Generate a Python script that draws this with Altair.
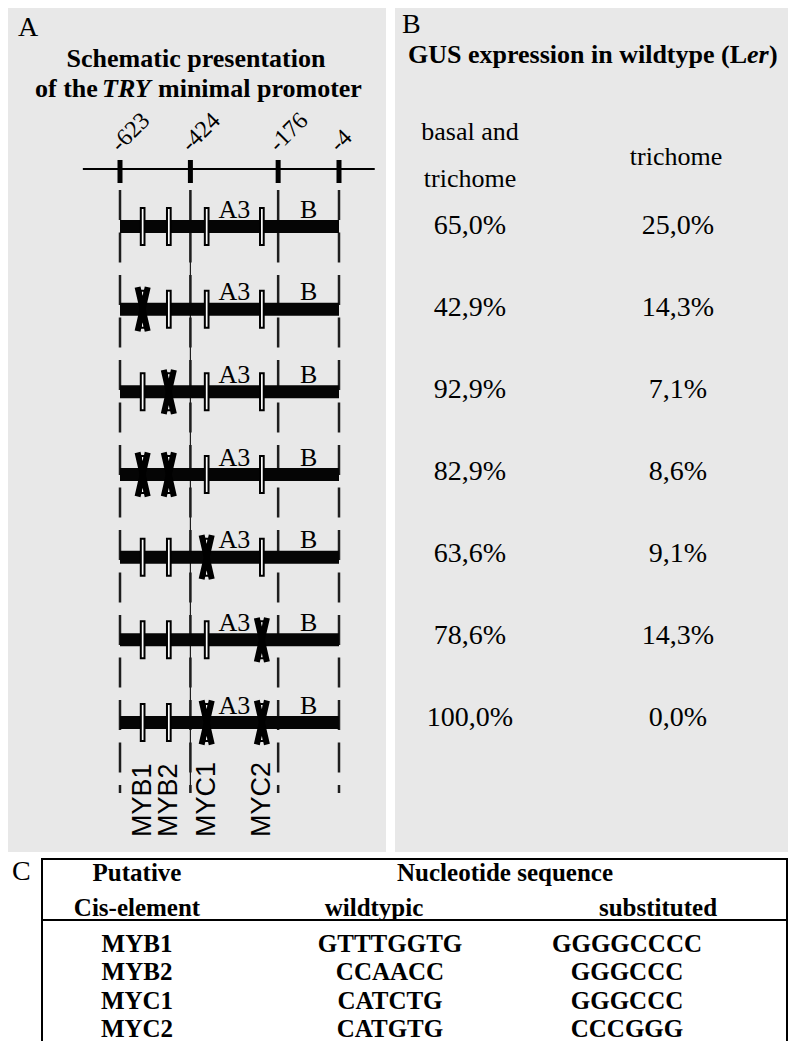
import altair as alt
import pandas as pd

# ---------------- data ----------------
boundaries = [-623, -424, -176, -4]
boundary_labels = ["-623", "-424", "-176", "-4"]
axis_extent = [-728, 97]
element_names = ["MYB1", "MYB2", "MYC1", "MYC2"]
element_pos = [-559, -485, -378, -222]
region_names = ["A3", "B"]
mutated = [[], ["MYB1"], ["MYB2"], ["MYB1", "MYB2"], ["MYC1"], ["MYC2"], ["MYC1", "MYC2"]]
basal_trichome = [65.0, 42.9, 92.9, 82.9, 63.6, 78.6, 100.0]
trichome_only = [25.0, 14.3, 7.1, 8.6, 9.1, 14.3, 0.0]
table_elements = ["MYB1", "MYB2", "MYC1", "MYC2"]
table_wild = ["GTTTGGTG", "CCAACC", "CATCTG", "CATGTG"]
table_subst = ["GGGGCCCC", "GGGCCC", "GGGCCC", "CCCGGG"]

# ---------------- tables built from the lists ----------------
n_rows = len(mutated)
ticks_df = pd.DataFrame({"bp": boundaries, "label": boundary_labels})
axis_df = pd.DataFrame({"start": [axis_extent[0]], "end": [axis_extent[1]]})
bars_df = pd.DataFrame({"row": list(range(n_rows)),
                        "start": [boundaries[0]] * n_rows,
                        "end": [boundaries[-1]] * n_rows})
elem_rows = []
for r, muts in enumerate(mutated):
    for name, pos in zip(element_names, element_pos):
        elem_rows.append({"row": r, "bp": pos, "name": name, "mut": name in muts})
elems_df = pd.DataFrame(elem_rows)
mids = [(boundaries[1] + boundaries[2]) / 2, (boundaries[2] + boundaries[3]) / 2]
region_df = pd.DataFrame([{"row": r, "bp": m, "name": n}
                          for r in range(n_rows) for n, m in zip(region_names, mids)])
labels_df = pd.DataFrame({"bp": element_pos, "name": element_names})


def pct(v):
    return f"{v:.1f}%".replace(".", ",")


pct_df = pd.DataFrame({"row": list(range(n_rows)),
                       "basal": [pct(v) for v in basal_trichome],
                       "tri": [pct(v) for v in trichome_only]})
table_df = pd.DataFrame({"row": list(range(len(table_elements))),
                         "el": table_elements, "wild": table_wild, "subst": table_subst})
one = pd.DataFrame({"k": [0]})

SERIF = "Liberation Serif"
SANS = "Liberation Sans"
GRAY = "#e8e8e8"

X_BP = alt.Scale(domain=[boundaries[0], boundaries[-1]], range=[112, 331], zero=False, nice=False)
Y_ROW = alt.Scale(domain=[0, n_rows - 1], range=[218.5, 714.5], zero=False, nice=False)
Y_PCT = alt.Scale(domain=[0, n_rows - 1], range=[217.5, 709.5], zero=False, nice=False)
Y_TAB = alt.Scale(domain=[0, len(table_elements) - 1], range=[936, 1021], zero=False, nice=False)


def xbp(field):
    return alt.X(field, type="quantitative", scale=X_BP, axis=None)


def yrow(field="row"):
    return alt.Y(field, type="quantitative", scale=Y_ROW, axis=None)


def label(text, x, y, size=26, weight="bold", style="normal", align="center",
          font=SERIF, baseline="alphabetic"):
    return alt.Chart(one).mark_text(
        text=text, font=font, fontSize=size, fontWeight=weight, fontStyle=style,
        align=align, baseline=baseline, color="black"
    ).encode(x=alt.value(x), y=alt.value(y))


def hrule(x1, x2, y, w=2):
    return alt.Chart(one).mark_rule(color="black", strokeWidth=w).encode(
        x=alt.value(x1), x2=alt.value(x2), y=alt.value(y))


def vrule(x, y1, y2, w=2):
    return alt.Chart(one).mark_rule(color="black", strokeWidth=w).encode(
        x=alt.value(x), y=alt.value(y1), y2=alt.value(y2))


BOX_PATH = "M -0.1 -1 L 0.1 -1 L 0.1 1 L -0.1 1 Z"
X_PATH = "M -0.23 -1 L 0.23 1 M 0.23 -1 L -0.23 1"

layers = []
# panel backgrounds
layers.append(alt.Chart(one).mark_rect(color=GRAY).encode(
    x=alt.value(-1), x2=alt.value(378), y=alt.value(-3), y2=alt.value(844)))
layers.append(alt.Chart(one).mark_rect(color=GRAY).encode(
    x=alt.value(387), x2=alt.value(790), y=alt.value(-3), y2=alt.value(844)))

# ---------- panel A ----------
layers.append(alt.Chart(axis_df).mark_rule(color="black", strokeWidth=2).encode(
    x=xbp("start"), x2="end:Q", y=alt.value(161)))
layers.append(alt.Chart(ticks_df).mark_rule(
    color="#1e1e1e", strokeWidth=2.5, strokeDash=[30, 12.5]).encode(
    x=xbp("bp"), y=alt.value(182), y2=alt.value(785)))
layers.append(alt.Chart(ticks_df[ticks_df.bp == boundaries[1]]).mark_rule(
    color="#1e1e1e", strokeWidth=1.2).encode(
    x=xbp("bp"), y=alt.value(182), y2=alt.value(785)))
layers.append(alt.Chart(ticks_df).mark_rule(color="black", strokeWidth=5).encode(
    x=xbp("bp"), y=alt.value(152), y2=alt.value(175)))
layers.append(alt.Chart(ticks_df).mark_text(
    angle=315, align="left", baseline="alphabetic", font=SERIF, fontSize=24,
    color="black").encode(x=xbp("bp"), y=alt.value(145), text="label:N"))

layers.append(alt.Chart(bars_df).mark_rule(color="#050505", strokeWidth=13).encode(
    x=xbp("start"), x2="end:Q", y=yrow()))
layers.append(alt.Chart(elems_df).mark_point(
    shape=BOX_PATH, size=1369, filled=True, fill="white", stroke="black",
    strokeWidth=2, opacity=1, fillOpacity=1, strokeOpacity=1).encode(
    x=xbp("bp"), y=yrow()))
layers.append(alt.Chart(elems_df).transform_filter("datum.mut").mark_point(
    shape=X_PATH, size=1936, filled=False, stroke="black", strokeWidth=6,
    opacity=1, strokeOpacity=1).encode(x=xbp("bp"), y=yrow()))
layers.append(alt.Chart(region_df).mark_text(
    font=SERIF, fontSize=26, baseline="alphabetic", dy=-9, color="black").encode(
    x=xbp("bp"), y=yrow(), text="name:N"))
layers.append(alt.Chart(labels_df).mark_text(
    font=SANS, fontSize=27, angle=270, align="left", baseline="middle",
    color="black").encode(x=xbp("bp"), y=alt.value(829), text="name:N"))

layers.append(label("A", 10, 28, size=28, weight="normal", align="left"))
layers.append(label("Schematic presentation", 188, 59))
layers.append(label("of the", 27, 89, align="left"))
layers.append(label("TRY", 94, 89, style="italic", align="left"))
layers.append(label("minimal promoter", 150, 89, align="left"))

# ---------- panel B ----------
layers.append(label("B", 394, 25, size=28, weight="normal", align="left"))
layers.append(label("GUS expression in wildtype (L", 400, 55, align="left"))
layers.append(label("er", 739, 55, style="italic", align="left"))
layers.append(label(")", 761, 55, align="left"))
layers.append(label("basal and", 462, 132, size=26, weight="normal"))
layers.append(label("trichome", 462, 179, size=26, weight="normal"))
layers.append(label("trichome", 668, 157, size=26, weight="normal"))
layers.append(alt.Chart(pct_df).mark_text(
    font=SERIF, fontSize=28, baseline="middle", color="black").encode(
    x=alt.value(462), y=alt.Y("row:Q", scale=Y_PCT, axis=None), text="basal:N"))
layers.append(alt.Chart(pct_df).mark_text(
    font=SERIF, fontSize=28, baseline="middle", color="black").encode(
    x=alt.value(670), y=alt.Y("row:Q", scale=Y_PCT, axis=None), text="tri:N"))

# ---------- panel C ----------
layers.append(label("C", 4, 872, size=28, weight="normal", align="left"))
layers.append(hrule(34, 779, 851))
layers.append(hrule(34, 779, 912))
layers.append(vrule(34, 850, 1033))
layers.append(vrule(779, 850, 1033))
layers.append(label("Putative", 129, 865, size=25, baseline="middle"))
layers.append(label("Cis-element", 129, 900, size=25, baseline="middle"))
layers.append(label("Nucleotide sequence", 497, 865, size=25, baseline="middle"))
layers.append(label("wildtypic", 366, 900, size=25, baseline="middle"))
layers.append(label("substituted", 650, 900, size=25, baseline="middle"))
for col, xpos in (("el", 129), ("wild", 382), ("subst", 619)):
    layers.append(alt.Chart(table_df).mark_text(
        font=SERIF, fontSize=25, fontWeight="bold", baseline="middle",
        color="black").encode(
        x=alt.value(xpos), y=alt.Y("row:Q", scale=Y_TAB, axis=None), text=f"{col}:N"))

chart = alt.layer(*layers).resolve_scale(x="independent", y="independent").properties(
    width=780, height=1033, padding=0,
    autosize=alt.AutoSizeParams(type="none"), background="white"
).configure_view(stroke=None)

chart.save("out.html", embed_options={"renderer": "svg", "actions": False})
